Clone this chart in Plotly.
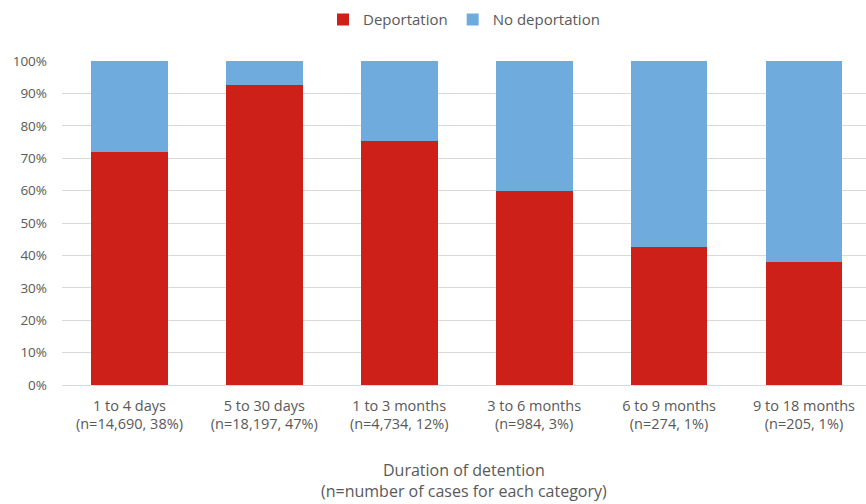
import plotly.graph_objects as go

# Detention duration categories (tick labels) and share of outcomes, in percent
categories = [
    "1 to 4 days<br>(n=14,690, 38%)",
    "5 to 30 days<br>(n=18,197, 47%)",
    "1 to 3 months<br>(n=4,734, 12%)",
    "3 to 6 months<br>(n=984, 3%)",
    "6 to 9 months<br>(n=274, 1%)",
    "9 to 18 months<br>(n=205, 1%)",
]
deportation = [72.0, 92.7, 75.4, 60.0, 42.7, 38.1]
no_deportation = [28.0, 7.3, 24.6, 40.0, 57.3, 61.9]

RED = "#CD2018"
BLUE = "#6FACDD"
TEXT = "#595959"
FONT = "Open Sans"

fig = go.Figure()
fig.add_trace(go.Bar(
    x=categories, y=deportation, name="Deportation",
    marker=dict(color=RED, line=dict(width=0)),
))
fig.add_trace(go.Bar(
    x=categories, y=no_deportation, name="No deportation",
    marker=dict(color=BLUE, line=dict(width=0)),
))

fig.update_layout(
    width=866, height=504,
    barmode="stack", bargap=0.43,
    plot_bgcolor="white", paper_bgcolor="white",
    margin=dict(l=62, r=0, t=61, b=119),
    font=dict(family=FONT, size=14, color=TEXT),
    legend=dict(
        orientation="h", x=0.5, xanchor="center", y=1.127, yanchor="middle",
        font=dict(family=FONT, size=15, color=TEXT),
        itemwidth=30, traceorder="normal",
    ),
    xaxis=dict(
        range=[-0.5, 5.46], showgrid=False, showline=False, ticks="",
        ticklabelstandoff=10,
        tickfont=dict(family=FONT, size=14.5, color=TEXT),
    ),
    yaxis=dict(
        range=[0, 100], dtick=10, ticksuffix="%",
        showgrid=True, gridcolor="#D9D9D9", gridwidth=1,
        zeroline=True, zerolinecolor="#D9D9D9", zerolinewidth=1,
        showline=False, ticks="", ticklabelstandoff=14,
        tickfont=dict(family=FONT, size=13.5, color=TEXT),
    ),
    annotations=[dict(
        text="Duration of detention<br>(n=number of cases for each category)",
        x=0.5, xref="paper", y=-0.296, yref="paper",
        xanchor="center", yanchor="middle", showarrow=False,
        font=dict(family=FONT, size=16, color=TEXT),
    )],
)

fig.write_html("out.html")
